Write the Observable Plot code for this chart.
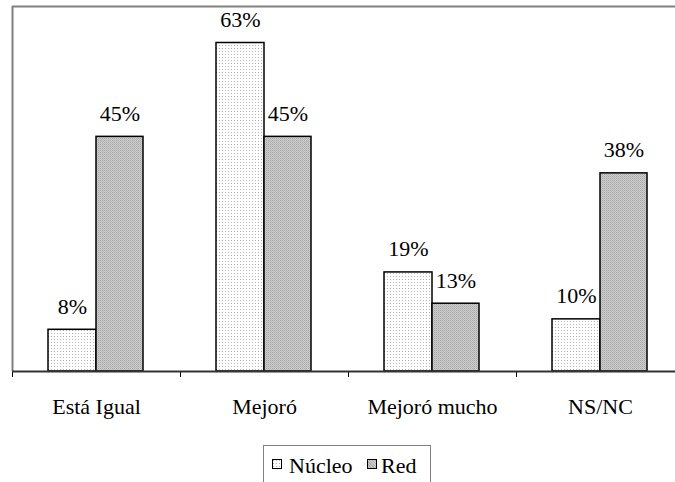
<!DOCTYPE html>
<html>
<head>
<meta charset="utf-8">
<script src="https://cdn.jsdelivr.net/npm/d3@7"></script>
<script src="https://cdn.jsdelivr.net/npm/@observablehq/plot@0.6"></script>
<style>
  html, body { margin: 0; padding: 0; background: #fff; overflow: hidden; width: 675px; height: 482px; }
  #chart svg { overflow: hidden; display: block; }
  #legend {
    position: absolute; left: 263px; top: 445px; width: 166px; height: 45px;
    border: 1px solid #808080; border-bottom: none; box-sizing: content-box;
    font-family: "Times New Roman", "Liberation Serif", serif; font-size: 22px; color: #000;
  }
  .sw { position: absolute; top: 13px; width: 8px; height: 8px; border: 1.5px solid #000; }
  .lbl { position: absolute; top: 9px; line-height: 22px; white-space: nowrap; }
</style>
</head>
<body>
<div id="chart"></div>
<div id="legend"></div>
<script>
const categories = ["Está Igual", "Mejoró", "Mejoró mucho", "NS/NC"];
const nucleo = [8, 63, 19, 10];
const red = [45, 45, 13, 38];
const seriesNames = ["Núcleo", "Red"];

const nucleoRows = categories.map((c, i) => ({cat: c, i, v: nucleo[i]}));
const redRows = categories.map((c, i) => ({cat: c, i, v: red[i]}));
const catRows = categories.map((c, i) => ({cat: c, i}));

const font = "'Times New Roman', 'Liberation Serif', serif";

const svg = Plot.plot({
  width: 675,
  height: 440,
  marginLeft: 12,
  marginRight: 0,
  marginTop: 6,
  marginBottom: 69,
  style: {fontFamily: font, fontSize: "22px", background: "#fff", color: "#000"},
  x: {type: "linear", domain: [0, categories.length], range: [12, 684], ticks: categories.length, tickSize: 6, tickFormat: () => "", label: null},
  y: {type: "linear", domain: [0, 70], axis: null},
  marks: [
    Plot.ruleY([70], {stroke: "#808080", strokeWidth: 2}),
    Plot.ruleX([0], {stroke: "#808080", strokeWidth: 2}),
    Plot.rect(nucleoRows, {x1: d => d.i, x2: d => d.i + 1, y1: () => 0, y2: "v", insetLeft: 36, insetRight: 84,
      fill: "url(#pNucleo)", stroke: "#000", strokeWidth: 1.5}),
    Plot.rect(redRows, {x1: d => d.i, x2: d => d.i + 1, y1: () => 0, y2: "v", insetLeft: 84, insetRight: 37,
      fill: "url(#pRed)", stroke: "#000", strokeWidth: 1.5}),
    Plot.ruleY([0], {stroke: "#333", strokeWidth: 2}),
    Plot.text(nucleoRows, {x: d => d.i + 0.5, y: "v", text: d => d.v + "%", dx: -24, dy: -23,
      fontSize: 22, fill: "#000", fontFamily: font}),
    Plot.text(redRows, {x: d => d.i + 0.5, y: "v", text: d => d.v + "%", dx: 23.5, dy: -23,
      fontSize: 22, fill: "#000", fontFamily: font}),
    Plot.text(catRows, {x: d => d.i + 0.5, y: () => 0, text: "cat", dy: 35,
      fontSize: 22, fill: "#000", fontFamily: font})
  ]
});

const defs = d3.select(svg).insert("defs", ":first-child");
const p1 = defs.append("pattern").attr("id", "pNucleo").attr("patternUnits", "userSpaceOnUse")
  .attr("width", 3).attr("height", 3);
p1.append("rect").attr("width", 3).attr("height", 3).attr("fill", "#fff");
p1.append("rect").attr("width", 1).attr("height", 1).attr("fill", "#b4b4b4");
const p2 = defs.append("pattern").attr("id", "pRed").attr("patternUnits", "userSpaceOnUse")
  .attr("width", 2).attr("height", 2);
p2.append("rect").attr("width", 2).attr("height", 2).attr("fill", "#cdcdcd");
p2.append("rect").attr("width", 1).attr("height", 1).attr("fill", "#a8a8a8");
p2.append("rect").attr("x", 1).attr("y", 1).attr("width", 1).attr("height", 1).attr("fill", "#b8b8b8");

document.getElementById("chart").appendChild(svg);
svg.querySelectorAll("text").forEach(t => t.style.fontFamily = font);

const legend = d3.select("#legend");
const swLefts = [8, 103];
const lblLefts = [25, 117];
const swFills = [
  "radial-gradient(circle at 0.5px 0.5px, #b4b4b4 0.6px, #fff 0.7px) 0 0 / 3px 3px",
  "repeating-linear-gradient(45deg, #b0b0b0 0 1px, #cdcdcd 1px 2px)"
];
seriesNames.forEach((name, k) => {
  legend.append("div").attr("class", "sw").style("left", swLefts[k] + "px").style("background", swFills[k]);
  legend.append("span").attr("class", "lbl").style("left", lblLefts[k] + "px").text(name);
});
</script>
</body>
</html>
